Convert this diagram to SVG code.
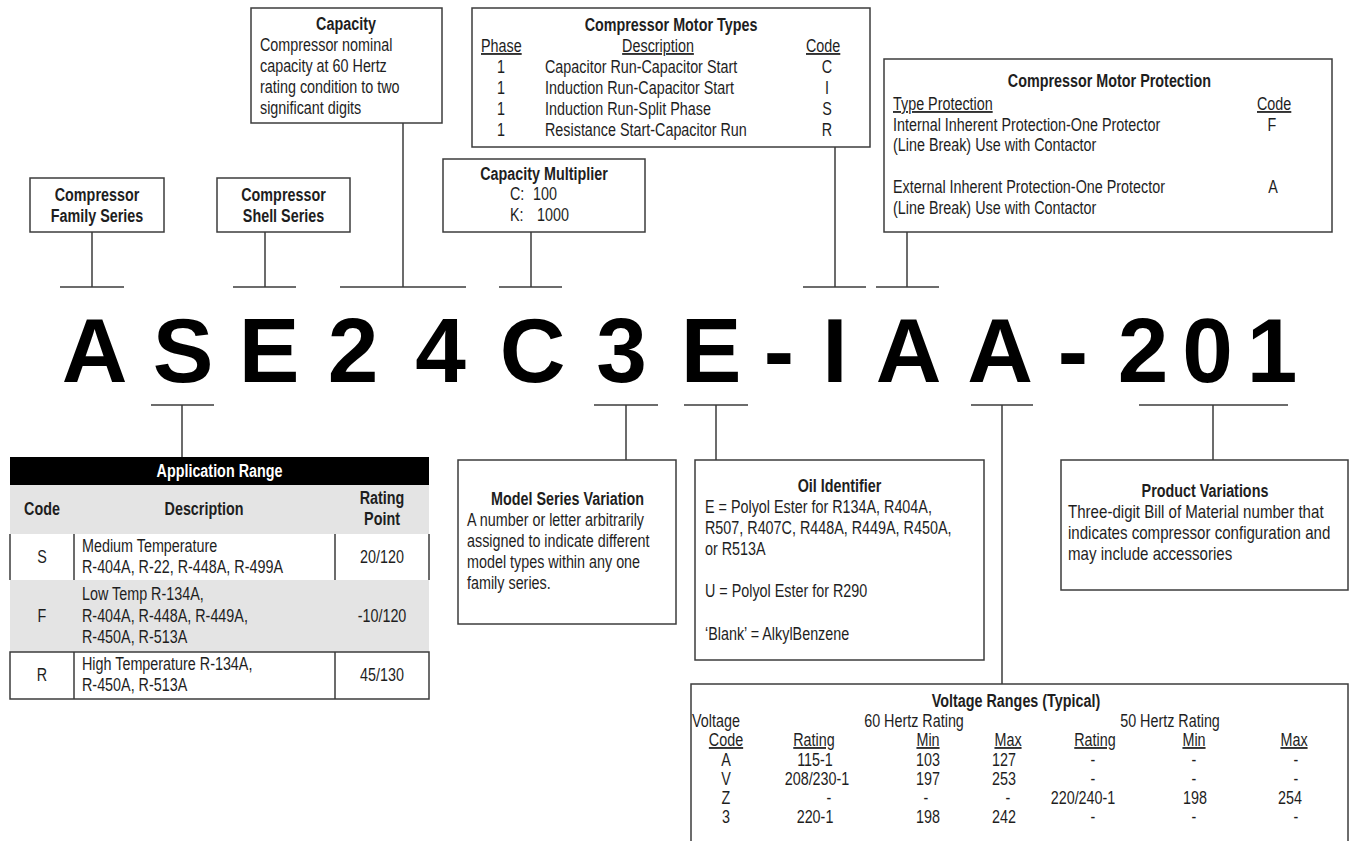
<svg xmlns="http://www.w3.org/2000/svg" width="1350" height="841" viewBox="0 0 1350 841">
<style>
.box{fill:#fff;stroke:#3c3c3c;stroke-width:1.5}
.ln{stroke:#3c3c3c;stroke-width:1.5;fill:none}
.t{font-family:"Liberation Sans",Arial,sans-serif;font-size:17.5px;fill:#1e1e1e}
.b{font-weight:bold}
.c{text-anchor:middle}
.u{text-decoration:underline}
.w{fill:#fff}
.p{font-size:18.4px}
.big{font-family:"Liberation Sans",Arial,sans-serif;font-weight:bold;font-size:91px;text-anchor:middle;fill:#000}
.gray{fill:#e4e4e4}
</style>
<rect width="1350" height="841" fill="#fff"/>

<g id="connectors">
<path class="ln" d="M60 287H124M92 232V287"/>
<path class="ln" d="M233 287H296M265 232V287"/>
<path class="ln" d="M340 287H466M403 123V287"/>
<path class="ln" d="M499 287H562M531 232V287"/>
<path class="ln" d="M803 287H866M835 147V287"/>
<path class="ln" d="M876 287H939M907 232V287"/>
<path class="ln" d="M151 405H214M182 405V457"/>
<path class="ln" d="M594 405H658M626 405V460"/>
<path class="ln" d="M684 405H748M716 405V460"/>
<path class="ln" d="M971 405H1033M1002 405V684"/>
<path class="ln" d="M1139 405H1288M1213 405V460"/>
</g>

<g id="model-code" class="big">
<text x="94.5" y="382">A</text>
<text x="183" y="382">S</text>
<text x="269" y="382">E</text>
<text x="353" y="382">2</text>
<text x="440.5" y="382">4</text>
<text x="532.5" y="382">C</text>
<text x="621.5" y="382">3</text>
<text x="711" y="382">E</text>
<text x="779" y="382">-</text>
<text x="835" y="382">I</text>
<text x="908.5" y="382">A</text>
<text x="1000" y="382">A</text>
<text x="1073" y="382">-</text>
<text x="1143" y="382">2</text>
<text x="1207.5" y="382">0</text>
<text x="1272" y="382">1</text>
</g>

<g id="family-series">
<rect class="box" x="30" y="178" width="134" height="54"/>
<text class="t b c" transform="translate(97 201) scale(.82 1)">Compressor</text>
<text class="t b c" transform="translate(97 222) scale(.82 1)">Family Series</text>
</g>

<g id="shell-series">
<rect class="box" x="217" y="178" width="133" height="54"/>
<text class="t b c" transform="translate(283.5 201) scale(.82 1)">Compressor</text>
<text class="t b c" transform="translate(283.5 222) scale(.82 1)">Shell Series</text>
</g>

<g id="capacity">
<rect class="box" x="251" y="8" width="191" height="115"/>
<text class="t b c" transform="translate(346 30) scale(.82 1)">Capacity</text>
<text class="t" transform="translate(260 51) scale(.82 1)">Compressor nominal</text>
<text class="t" transform="translate(260 72) scale(.82 1)">capacity at 60 Hertz</text>
<text class="t" transform="translate(260 93) scale(.82 1)">rating condition to two</text>
<text class="t" transform="translate(260 114) scale(.82 1)">significant digits</text>
</g>

<g id="capacity-multiplier">
<rect class="box" x="443" y="159" width="202" height="73"/>
<text class="t b c" transform="translate(544 180) scale(.82 1)">Capacity Multiplier</text>
<text class="t" transform="translate(510 200) scale(.82 1)">C:</text>
<text class="t" transform="translate(533 200) scale(.82 1)">100</text>
<text class="t" transform="translate(510 221) scale(.82 1)">K:</text>
<text class="t" transform="translate(537 221) scale(.82 1)">1000</text>
</g>

<g id="motor-types">
<rect class="box" x="472" y="8" width="398" height="139"/>
<text class="t b c" transform="translate(671 31) scale(.82 1)">Compressor Motor Types</text>
<text class="t u" transform="translate(481 52) scale(.82 1)">Phase</text>
<text class="t u c" transform="translate(658 52) scale(.82 1)">Description</text>
<text class="t u" transform="translate(806 52) scale(.82 1)">Code</text>
<text class="t c" transform="translate(501 73) scale(.82 1)">1</text>
<text class="t" transform="translate(545 73) scale(.82 1)">Capacitor Run-Capacitor Start</text>
<text class="t c" transform="translate(827 73) scale(.82 1)">C</text>
<text class="t c" transform="translate(501 94) scale(.82 1)">1</text>
<text class="t" transform="translate(545 94) scale(.82 1)">Induction Run-Capacitor Start</text>
<text class="t c" transform="translate(827 94) scale(.82 1)">I</text>
<text class="t c" transform="translate(501 115) scale(.82 1)">1</text>
<text class="t" transform="translate(545 115) scale(.82 1)">Induction Run-Split Phase</text>
<text class="t c" transform="translate(827 115) scale(.82 1)">S</text>
<text class="t c" transform="translate(501 136) scale(.82 1)">1</text>
<text class="t" transform="translate(545 136) scale(.82 1)">Resistance Start-Capacitor Run</text>
<text class="t c" transform="translate(827 136) scale(.82 1)">R</text>
</g>

<g id="motor-protection">
<rect class="box" x="884" y="59" width="448" height="173"/>
<text class="t b c" transform="translate(1109.5 87) scale(.82 1)">Compressor Motor Protection</text>
<text class="t u" transform="translate(893 110) scale(.82 1)">Type Protection</text>
<text class="t u" transform="translate(1257 110) scale(.82 1)">Code</text>
<text class="t" transform="translate(893 131) scale(.82 1)">Internal Inherent Protection-One Protector</text>
<text class="t c" transform="translate(1272 131) scale(.82 1)">F</text>
<text class="t" transform="translate(893 151) scale(.82 1)">(Line Break) Use with Contactor</text>
<text class="t" transform="translate(893 193) scale(.82 1)">External Inherent Protection-One Protector</text>
<text class="t c" transform="translate(1273 193) scale(.82 1)">A</text>
<text class="t" transform="translate(893 214) scale(.82 1)">(Line Break) Use with Contactor</text>
</g>

<g id="application-range">
<rect x="10" y="457" width="419" height="28" fill="#000"/>
<rect class="gray" x="10" y="485" width="419" height="49"/>
<rect class="gray" x="10" y="580" width="419" height="72"/>
<path class="ln" d="M10 534V580M429 534V580M74 534V580M335 534V580M10 652H429V699H10ZM74 652V699M335 652V699"/>
<text class="t b c w" transform="translate(219.5 477) scale(.82 1)">Application Range</text>
<text class="t b c" transform="translate(42 515) scale(.82 1)">Code</text>
<text class="t b c" transform="translate(204 515) scale(.82 1)">Description</text>
<text class="t b c" transform="translate(382 504) scale(.82 1)">Rating</text>
<text class="t b c" transform="translate(382 525) scale(.82 1)">Point</text>
<text class="t c" transform="translate(42 563) scale(.82 1)">S</text>
<text class="t" transform="translate(82 552) scale(.82 1)">Medium Temperature</text>
<text class="t" transform="translate(82 573) scale(.82 1)">R-404A, R-22, R-448A, R-499A</text>
<text class="t c" transform="translate(382 563) scale(.82 1)">20/120</text>
<text class="t c" transform="translate(42 622) scale(.82 1)">F</text>
<text class="t" transform="translate(82 600) scale(.82 1)">Low Temp R-134A,</text>
<text class="t" transform="translate(82 622) scale(.82 1)">R-404A, R-448A, R-449A,</text>
<text class="t" transform="translate(82 643) scale(.82 1)">R-450A, R-513A</text>
<text class="t c" transform="translate(382 622) scale(.82 1)">-10/120</text>
<text class="t c" transform="translate(42 681) scale(.82 1)">R</text>
<text class="t" transform="translate(82 670) scale(.82 1)">High Temperature R-134A,</text>
<text class="t" transform="translate(82 691) scale(.82 1)">R-450A, R-513A</text>
<text class="t c" transform="translate(382 681) scale(.82 1)">45/130</text>
</g>

<g id="model-series-variation">
<rect class="box" x="458" y="460" width="218" height="164"/>
<text class="t b c" transform="translate(567.5 505) scale(.82 1)">Model Series Variation</text>
<text class="t" transform="translate(467 526) scale(.82 1)">A number or letter arbitrarily</text>
<text class="t" transform="translate(467 547) scale(.82 1)">assigned to indicate different</text>
<text class="t" transform="translate(467 568) scale(.82 1)">model types within any one</text>
<text class="t" transform="translate(467 589) scale(.82 1)">family series.</text>
</g>

<g id="oil-identifier">
<rect class="box" x="695" y="460" width="289" height="200"/>
<text class="t b c" transform="translate(839.5 492) scale(.82 1)">Oil Identifier</text>
<text class="t" transform="translate(705 513) scale(.82 1)">E = Polyol Ester for R134A, R404A,</text>
<text class="t" transform="translate(705 534) scale(.82 1)">R507, R407C, R448A, R449A, R450A,</text>
<text class="t" transform="translate(705 555) scale(.82 1)">or R513A</text>
<text class="t" transform="translate(705 597) scale(.82 1)">U = Polyol Ester for R290</text>
<text class="t" transform="translate(705 640) scale(.82 1)">‘Blank’ = AlkylBenzene</text>
</g>

<g id="product-variations">
<rect class="box" x="1061" y="460" width="287" height="130"/>
<text class="t b c" transform="translate(1205 497) scale(.82 1)">Product Variations</text>
<text class="t p" transform="translate(1068 518) scale(.82 1)">Three-digit Bill of Material number that</text>
<text class="t p" transform="translate(1068 539) scale(.82 1)">indicates compressor configuration and</text>
<text class="t p" transform="translate(1068 560) scale(.82 1)">may include accessories</text>
</g>

<g id="voltage-ranges">
<rect class="box" x="691" y="684" width="657" height="180"/>
<text class="t b c" transform="translate(1016 707) scale(.82 1)">Voltage Ranges (Typical)</text>
<text class="t" transform="translate(692 727) scale(.82 1)">Voltage</text>
<text class="t c" transform="translate(914 727) scale(.82 1)">60 Hertz Rating</text>
<text class="t c" transform="translate(1170 727) scale(.82 1)">50 Hertz Rating</text>
<text class="t u c" transform="translate(726 746) scale(.82 1)">Code</text>
<text class="t u c" transform="translate(814 746) scale(.82 1)">Rating</text>
<text class="t u c" transform="translate(928 746) scale(.82 1)">Min</text>
<text class="t u c" transform="translate(1008 746) scale(.82 1)">Max</text>
<text class="t u c" transform="translate(1095 746) scale(.82 1)">Rating</text>
<text class="t u c" transform="translate(1194 746) scale(.82 1)">Min</text>
<text class="t u c" transform="translate(1294 746) scale(.82 1)">Max</text>
<text class="t c" transform="translate(726 766) scale(.82 1)">A</text>
<text class="t c" transform="translate(815 766) scale(.82 1)">115-1</text>
<text class="t c" transform="translate(928 766) scale(.82 1)">103</text>
<text class="t c" transform="translate(1004 766) scale(.82 1)">127</text>
<text class="t c" transform="translate(1093 766) scale(.82 1)">-</text>
<text class="t c" transform="translate(1194 766) scale(.82 1)">-</text>
<text class="t c" transform="translate(1296 766) scale(.82 1)">-</text>
<text class="t c" transform="translate(726 785) scale(.82 1)">V</text>
<text class="t c" transform="translate(817 785) scale(.82 1)">208/230-1</text>
<text class="t c" transform="translate(928 785) scale(.82 1)">197</text>
<text class="t c" transform="translate(1004 785) scale(.82 1)">253</text>
<text class="t c" transform="translate(1093 785) scale(.82 1)">-</text>
<text class="t c" transform="translate(1194 785) scale(.82 1)">-</text>
<text class="t c" transform="translate(1296 785) scale(.82 1)">-</text>
<text class="t c" transform="translate(726 804) scale(.82 1)">Z</text>
<text class="t c" transform="translate(829 804) scale(.82 1)">-</text>
<text class="t c" transform="translate(926 804) scale(.82 1)">-</text>
<text class="t c" transform="translate(1008 804) scale(.82 1)">-</text>
<text class="t c" transform="translate(1083 804) scale(.82 1)">220/240-1</text>
<text class="t c" transform="translate(1195 804) scale(.82 1)">198</text>
<text class="t c" transform="translate(1290 804) scale(.82 1)">254</text>
<text class="t c" transform="translate(726 823) scale(.82 1)">3</text>
<text class="t c" transform="translate(815 823) scale(.82 1)">220-1</text>
<text class="t c" transform="translate(928 823) scale(.82 1)">198</text>
<text class="t c" transform="translate(1004 823) scale(.82 1)">242</text>
<text class="t c" transform="translate(1093 823) scale(.82 1)">-</text>
<text class="t c" transform="translate(1194 823) scale(.82 1)">-</text>
<text class="t c" transform="translate(1296 823) scale(.82 1)">-</text>
</g>
</svg>
